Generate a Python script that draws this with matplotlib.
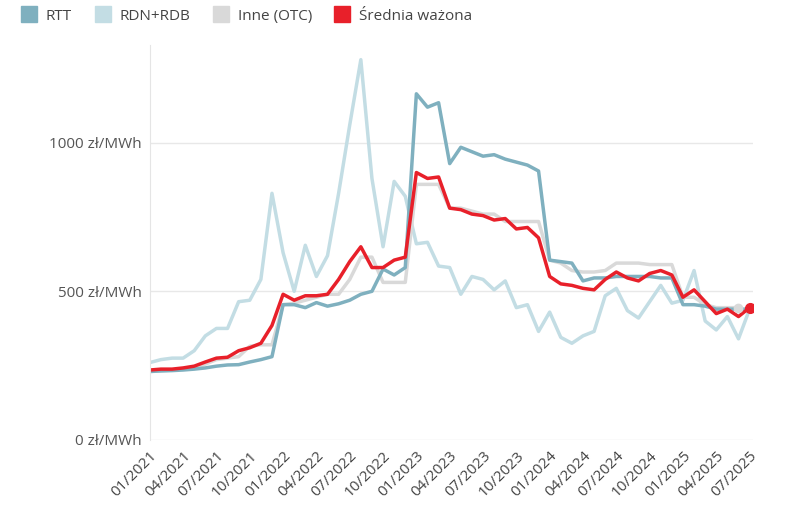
import numpy as np
import matplotlib.pyplot as plt
from matplotlib.lines import Line2D

months = [f"{m:02d}/{y}" for y in range(2021, 2026) for m in range(1, 13)][:55]

rtt = [230, 232, 233, 235, 238, 242, 248, 252, 253, 262, 270, 280,
       455, 455, 445, 462, 450, 458, 470, 490, 500, 575, 555, 580,
       1165, 1120, 1135, 930, 985, 970, 955, 960, 945, 935, 925, 905,
       605, 600, 595, 535, 545, 545, 550, 550, 550, 550, 545, 545,
       455, 455, 450, 440, 440, 440, 440]
rdn = [260, 270, 275, 275, 300, 350, 375, 375, 465, 470, 540, 830,
       630, 500, 655, 550, 620, 830, 1060, 1280, 880, 650, 870, 820,
       660, 665, 585, 580, 490, 550, 540, 505, 535, 445, 455, 365,
       430, 345, 325, 350, 365, 485, 510, 435, 410, 465, 520, 460,
       470, 570, 400, 370, 415, 340, 440]
otc = [230, 232, 235, 238, 240, 255, 270, 275, 280, 315, 320, 320,
       455, 460, 470, 480, 490, 490, 540, 615, 615, 530, 530, 530,
       860, 860, 860, 780, 780, 770, 760, 760, 735, 735, 735, 735,
       605, 595, 570, 565, 565, 570, 595, 595, 595, 590, 590, 590,
       480, 480, 455, 445, 445, 445, np.nan]
srednia = [235, 238, 238, 242, 248, 262, 275, 278, 300, 310, 325, 385,
           490, 470, 485, 485, 490, 540, 600, 650, 580, 580, 605, 615,
           900, 880, 885, 780, 775, 760, 755, 740, 745, 710, 715, 680,
           550, 525, 520, 510, 505, 540, 565, 545, 535, 560, 570, 555,
           480, 505, 465, 425, 440, 415, 445]

c_rtt, c_rdn, c_otc, c_red = "#7fb0bf", "#c3dde4", "#d9d9d9", "#e8202a"
plt.rcParams["font.family"] = "Open Sans"

fig = plt.figure(figsize=(8.01, 5.15), dpi=100)
ax = fig.add_axes([0.187, 0.146, 0.753, 0.767])
x = np.arange(len(months))
ax.plot(x, rdn, color=c_rdn, lw=2.5)
ax.plot(x, otc, color=c_otc, lw=2.5)
ax.plot(x, rtt, color=c_rtt, lw=2.5)
ax.plot(x, srednia, color=c_red, lw=2.5)
ax.plot(x[53], otc[53], "o", color=c_otc, ms=6)
ax.plot(x[54], srednia[54], "o", color=c_red, ms=7)

ax.set_xlim(0, 54.3)
ax.set_ylim(0, 1330)
ax.set_yticks([0, 500, 1000])
ax.set_yticklabels(["0 zł/MWh", "500 zł/MWh", "1000 zł/MWh"], color="#555555", fontsize=11)
ax.set_xticks(x[::3])
ax.set_xticklabels(months[::3], rotation=45, ha="right", rotation_mode="anchor",
                   color="#444444", fontsize=11)
ax.grid(axis="y", color="#e8e8e8", lw=1)
ax.tick_params(length=0, pad=6)
for s in ["top", "right", "bottom"]:
    ax.spines[s].set_visible(False)
ax.spines["left"].set_color("#e5e5e5")
ax.set_axisbelow(True)

handles = [Line2D([], [], marker="s", ls="", color=c, ms=11) for c in (c_rtt, c_rdn, c_otc, c_red)]
fig.legend(handles, ["RTT", "RDN+RDB", "Inne (OTC)", "Średnia ważona"], loc="upper left",
           bbox_to_anchor=(0.0, 1.01), ncol=4, frameon=False, handletextpad=0.1,
           columnspacing=1.0, fontsize=11, labelcolor="#444444")
fig.savefig("out.png")
